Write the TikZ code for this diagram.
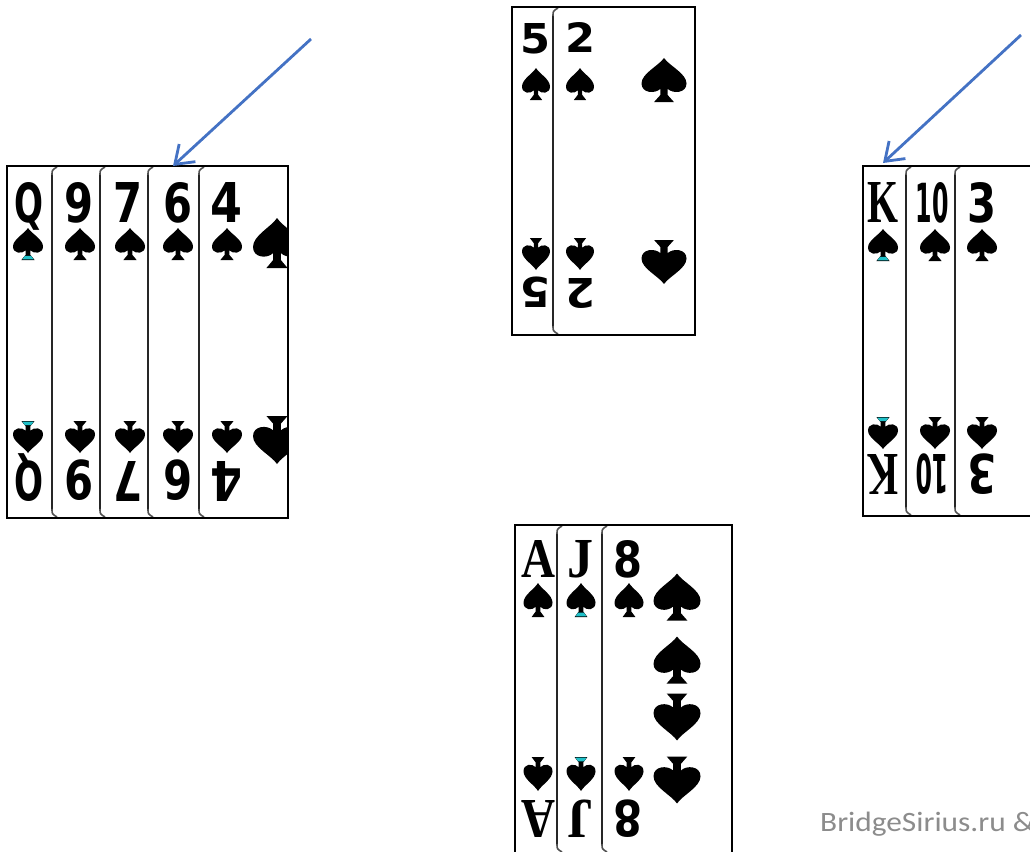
\documentclass[tikz,border=0pt]{standalone}
\usepackage{fontspec}
\usepackage{graphicx}
\usetikzlibrary{arrows.meta}
\newfontfamily\rkfont{DejaVu Sans}
\newfontfamily\rkserif{Liberation Serif}
\newfontfamily\wmfont{Carlito}
\definecolor{arrowblue}{HTML}{4472C4}
\definecolor{divgray}{HTML}{262626}
\definecolor{stemcyan}{HTML}{1FC0C8}
\definecolor{wmgray}{HTML}{8C8C8C}
\newcommand\rks[1]{{\rkfont\bfseries #1}}
\newcommand\rkk[1]{{\rkserif\bfseries #1}}
\newcommand\pip[4]{\fill[shift={(#1,#2)},xscale=#3,yscale=#4] (0,-0.5) .. controls (0.12,-0.32) and (0.5,-0.15) .. (0.5,0.08) .. controls (0.5,0.3) and (0.2,0.32) .. (0.08,0.2) -- (0.08,0.34) -- (0.22,0.5) -- (-0.22,0.5) -- (-0.08,0.34) -- (-0.08,0.2) .. controls (-0.2,0.32) and (-0.5,0.3) .. (-0.5,0.08) .. controls (-0.5,-0.15) and (-0.12,-0.32) .. (0,-0.5) -- cycle;}
\newcommand\cyanpip[4]{\fill[stemcyan,shift={(#1,#2)},xscale=#3,yscale=#4] (0.1,0.37) -- (0.19,0.48) -- (-0.19,0.48) -- (-0.1,0.37) -- cycle;}
\newcommand\divider[3]{%
  \draw[divline] (#1,#2+9) -- (#1,#3-9);
  \draw[curl] (#1,#2+9) .. controls (#1,#2+4) .. (#1+5,#2+1);
  \draw[curl] (#1,#3-9) .. controls (#1,#3-4) .. (#1+5,#3-1);}
\newcommand\rank[6]{\node[rk,anchor=north] (#1) at (#2,#3) {\resizebox{#4pt}{#5pt}{#6}};}
\newcommand\rankinv[6]{\node[rk,anchor=north,rotate=180] (#1) at (#2,#3) {\resizebox{#4pt}{#5pt}{#6}};}
\begin{document}
\begin{tikzpicture}[x=1pt,y=-1pt,
  rk/.style={inner sep=0pt,outer sep=0pt},
  divline/.style={draw=divgray,line width=2.6pt},
  curl/.style={draw=divgray!80,line width=1.6pt},
  cardborder/.style={draw=black,line width=2pt},
  arr/.style={draw=arrowblue,line width=2.8pt,-{Straight Barb[length=17pt,width=24pt,line width=2.8pt]}}]
\useasboundingbox (0,0) rectangle (1030,851);
\clip (0,0) rectangle (1030,851);
\fill[white] (0,0) rectangle (1030,851);

% ---------------- West hand ----------------
\fill[white] (7,166) rectangle (288,518);
\begin{scope}
  \clip (7,166) rectangle (288,518);
  \pip{277}{243}{48}{50}
  \pip{277}{440}{48}{-48}
\end{scope}
\rank{wq}{29}{182}{29}{40}{\rks{Q}}
\rank{w9}{79}{182}{29}{40}{\rks{9}}
\rank{w7}{128}{182}{29}{40}{\rks{7}}
\rank{w6}{178}{182}{29}{40}{\rks{6}}
\rank{w4}{226}{182}{32}{40}{\rks{4}}
\rankinv{wqb}{29}{501}{29}{40}{\rks{Q}}
\rankinv{w9b}{79}{501}{29}{40}{\rks{9}}
\rankinv{w7b}{128}{501}{29}{40}{\rks{7}}
\rankinv{w6b}{178}{501}{29}{40}{\rks{6}}
\rankinv{w4b}{226}{501}{32}{40}{\rks{4}}
\foreach \px in {28,80,130,178,227}{\pip{\px}{244}{30}{32}\pip{\px}{437}{30}{-32}}
\cyanpip{28}{244}{30}{32}
\cyanpip{28}{437}{30}{-32}
\foreach \dx in {52,100,148,199}{\divider{\dx}{166}{518}}
\draw[cardborder] (7,166) rectangle (288,518);

% ---------------- North hand ----------------
\fill[white] (512,7) rectangle (695,335);
\rank{n5}{535}{23}{30}{30}{\rks{5}}
\rank{n2}{580}{23}{30}{30}{\rks{2}}
\rankinv{n5b}{535}{308}{30}{30}{\rks{5}}
\rankinv{n2b}{580}{308}{30}{30}{\rks{2}}
\foreach \px in {536,580}{\pip{\px}{84}{28}{32}\pip{\px}{254}{28}{-32}}
\pip{664}{80}{45}{44}
\pip{664}{262}{45}{-44}
\divider{553}{7}{335}
\draw[cardborder] (512,7) rectangle (695,335);

% ---------------- East hand ----------------
\fill[white] (863,166) rectangle (1040,516);
\rank{ek}{883}{182}{31}{40}{\rkk{K}}
\rank{e10}{932}{182}{33}{40}{\rks{10}}
\rank{e3}{982}{182}{29}{40}{\rks{3}}
\rankinv{ekb}{883}{494}{31}{40}{\rkk{K}}
\rankinv{e10b}{932}{494}{33}{40}{\rks{10}}
\rankinv{e3b}{982}{494}{29}{40}{\rks{3}}
\foreach \px in {883,935,982}{\pip{\px}{245}{30}{32}\pip{\px}{433}{30}{-32}}
\cyanpip{883}{245}{30}{32}
\cyanpip{883}{433}{30}{-32}
\foreach \dx in {906,955}{\divider{\dx}{166}{516}}
\draw[cardborder] (1040,166) -- (863,166) -- (863,516) -- (1040,516);

% ---------------- South hand ----------------
\fill[white] (515,525) rectangle (732,853);
\rank{sa}{538}{540}{34}{37}{\rkk{A}}
\rank{sj}{580}{540}{26}{37}{\rkk{J}}
\rank{s8}{628}{540}{29}{37}{\rks{8}}
\rankinv{sab}{538}{837}{34}{37}{\rkk{A}}
\rankinv{sjb}{580}{837}{26}{37}{\rkk{J}}
\rankinv{s8b}{628}{837}{29}{37}{\rks{8}}
\foreach \px in {538,581,629}{\pip{\px}{600}{29}{34}\pip{\px}{774}{29}{-34}}
\cyanpip{581}{600}{29}{34}
\cyanpip{581}{774}{29}{-34}
\pip{677}{597}{47}{47}
\pip{677}{660}{47}{47}
\pip{677}{717}{47}{-47}
\pip{677}{780}{47}{-47}
\foreach \dx in {557,602}{\divider{\dx}{525}{853}}
\draw[cardborder] (515,525) rectangle (732,853);

% ---------------- Arrows ----------------
\coordinate (wtail) at (311,39);
\coordinate (whead) at (173,166);
\coordinate (etail) at (1021,35);
\coordinate (ehead) at (883,163);
\draw[arr] (wtail) -- (whead);
\draw[arr] (etail) -- (ehead);

% ---------------- Watermark ----------------
\node[anchor=base west,inner sep=0pt,text=wmgray,font=\wmfont\fontsize{28}{28}\selectfont] (wm) at (820,831) {\scalebox{1.12}[1]{BridgeSirius.ru \&}};
\end{tikzpicture}
\end{document}
